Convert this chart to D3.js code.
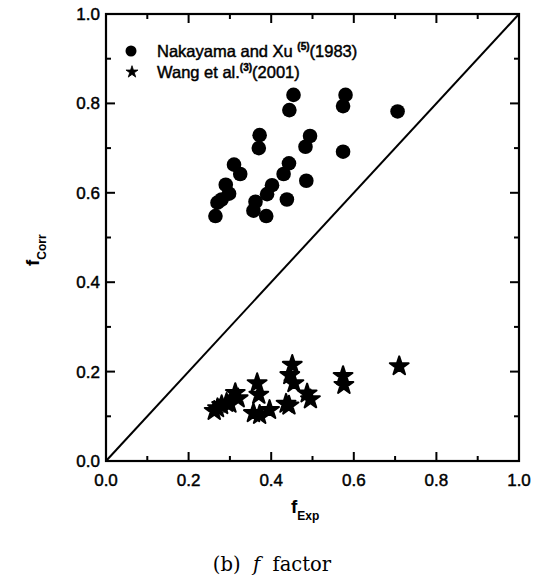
<!DOCTYPE html>
<html><head><meta charset="utf-8">
<script src="https://cdn.jsdelivr.net/npm/d3@7"></script>
<style>body{margin:0;background:#fff}svg{display:block}</style>
</head><body>
<svg id="c" width="544" height="584"></svg>
<script>
// Data
const nakX = [0.265,0.270,0.280,0.290,0.298,0.310,0.325,0.357,0.362,0.370,0.372,0.388,0.390,0.402,0.430,0.438,0.443,0.444,0.454,0.483,0.494,0.485,0.574,0.574,0.580,0.706];
const nakY = [0.548,0.578,0.585,0.618,0.598,0.663,0.642,0.560,0.580,0.700,0.729,0.548,0.597,0.617,0.642,0.585,0.666,0.785,0.819,0.703,0.727,0.627,0.692,0.794,0.819,0.782];
const wangX = [0.262,0.270,0.280,0.292,0.300,0.313,0.320,0.357,0.366,0.370,0.372,0.396,0.436,0.443,0.451,0.445,0.455,0.487,0.495,0.574,0.576,0.710];
const wangY = [0.112,0.118,0.125,0.130,0.128,0.152,0.140,0.107,0.174,0.148,0.103,0.114,0.128,0.124,0.215,0.192,0.174,0.151,0.138,0.190,0.170,0.212];
const majorTicks = [0.0,0.2,0.4,0.6,0.8,1.0];
const minorTicks = [0.1,0.3,0.5,0.7,0.9];

const svg = d3.select("#c");
const L=106,R=519,T=14,B=461;
const x = d3.scaleLinear().domain([0,1]).range([L,R]);
const y = d3.scaleLinear().domain([0,1]).range([B,T]);
const font = "Arial, 'Liberation Sans', sans-serif";
const thick = t => t.attr("stroke","#000").attr("stroke-width",0.45);

// ticks (inward, all four sides)
const tg = svg.append("g").attr("stroke","#000").attr("stroke-width",2);
majorTicks.concat(minorTicks).forEach(v=>{
  const len = majorTicks.includes(v)?9:5;
  tg.append("line").attr("x1",x(v)).attr("x2",x(v)).attr("y1",B).attr("y2",B-len);
  tg.append("line").attr("x1",x(v)).attr("x2",x(v)).attr("y1",T).attr("y2",T+len);
  tg.append("line").attr("y1",y(v)).attr("y2",y(v)).attr("x1",L).attr("x2",L+len);
  tg.append("line").attr("y1",y(v)).attr("y2",y(v)).attr("x1",R).attr("x2",R-len);
});
svg.append("rect").attr("x",L).attr("y",T).attr("width",R-L).attr("height",B-T)
  .attr("fill","none").attr("stroke","#000").attr("stroke-width",2.2);

// tick labels
majorTicks.forEach(v=>{
  thick(svg.append("text").attr("x",x(v)).attr("y",B+25).attr("text-anchor","middle")
    .attr("font-family",font).attr("font-size",17).text(v.toFixed(1)));
  thick(svg.append("text").attr("x",L-6).attr("y",y(v)+6).attr("text-anchor","end")
    .attr("font-family",font).attr("font-size",17).text(v.toFixed(1)));
});

// diagonal
svg.append("line").attr("x1",x(0)).attr("y1",y(0)).attr("x2",x(1)).attr("y2",y(1))
  .attr("stroke","#000").attr("stroke-width",2);

// circles
svg.append("g").selectAll("circle").data(nakX.map((v,i)=>[v,nakY[i]])).join("circle")
  .attr("cx",d=>x(d[0])).attr("cy",d=>y(d[1])).attr("r",7.3).attr("fill","#000");

// stars
const star = d3.symbol().type(d3.symbolStar).size(110);
svg.append("g").selectAll("path").data(wangX.map((v,i)=>[v,wangY[i]])).join("path")
  .attr("transform",d=>`translate(${x(d[0])},${y(d[1])})`).attr("d",star).attr("fill","#000")
  .attr("stroke","#000").attr("stroke-width",2).attr("stroke-linejoin","round");

// legend
svg.append("circle").attr("cx",131).attr("cy",51).attr("r",5.5).attr("fill","#000");
svg.append("path").attr("transform","translate(132,72)").attr("d",d3.symbol().type(d3.symbolStar).size(45))
  .attr("fill","#000").attr("stroke","#000").attr("stroke-width",0.8).attr("stroke-linejoin","round");
const l1 = thick(svg.append("text").attr("x",157).attr("y",57).attr("font-family",font).attr("font-size",16.5));
l1.append("tspan").text("Nakayama and Xu ");
l1.append("tspan").attr("font-size",10).attr("font-weight","bold").attr("dy",-7).text("(5)");
l1.append("tspan").attr("dy",7).text("(1983)");
const l2 = thick(svg.append("text").attr("x",157).attr("y",78).attr("font-family",font).attr("font-size",16.5));
l2.append("tspan").text("Wang et al.");
l2.append("tspan").attr("font-size",10).attr("font-weight","bold").attr("dy",-7).text("(3)");
l2.append("tspan").attr("dy",7).text("(2001)");

// axis titles
const xt = svg.append("text").attr("x",291).attr("y",513).attr("font-family",font).attr("font-weight","bold").attr("font-size",19);
xt.append("tspan").text("f");
xt.append("tspan").attr("font-size",12).attr("dy",7).text("Exp");
const yt = svg.append("text").attr("transform","translate(39,266) rotate(-90)").attr("font-family",font).attr("font-weight","bold").attr("font-size",19);
yt.append("tspan").text("f");
yt.append("tspan").attr("font-size",12).attr("dy",7).text("Corr");

// caption
const cap = svg.append("text").attr("x",272).attr("y",571).attr("text-anchor","middle")
  .attr("font-family","'DejaVu Serif', 'Liberation Serif', serif").attr("font-size",19.5)
  .attr("xml:space","preserve").style("white-space","pre");
cap.append("tspan").text("(b)  ");
cap.append("tspan").attr("font-style","italic").text("f");
cap.append("tspan").text("  factor");
</script>
</body></html>
